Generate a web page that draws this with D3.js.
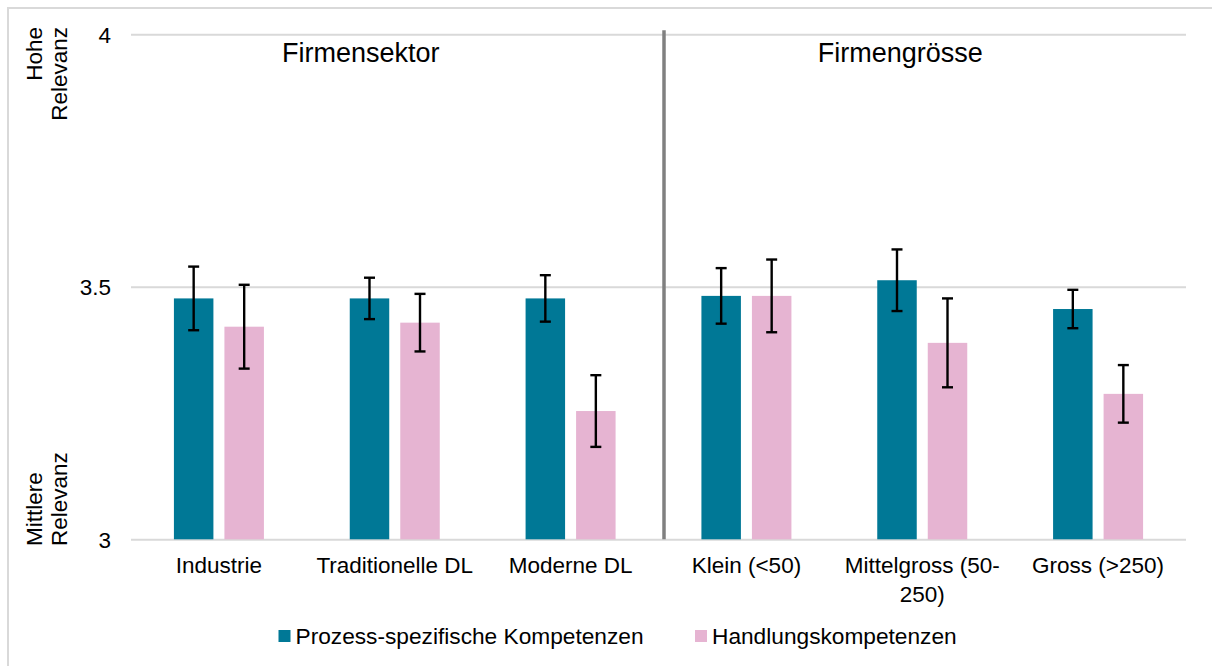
<!DOCTYPE html>
<html>
<head>
<meta charset="utf-8">
<script src="https://cdn.jsdelivr.net/npm/d3@7"></script>
<style>
  body { margin: 0; background: #fff; }
  svg text { font-family: "Liberation Sans", Arial, sans-serif; fill: #000; }
</style>
</head>
<body>
<svg id="drawing_region"></svg>
<script>
// categories and tick labels
const categories = ['Industrie', 'Traditionelle DL', 'Moderne DL', 'Klein (<50)', 'Mittelgross (50-250)', 'Gross (>250)'];
const categoryLines = [['Industrie'], ['Traditionelle DL'], ['Moderne DL'], ['Klein (<50)'], ['Mittelgross (50-', '250)'], ['Gross (>250)']];
const seriesNames = ['Prozess-spezifische Kompetenzen', 'Handlungskompetenzen'];
const groupTitles = ['Firmensektor', 'Firmengrösse'];
const yTicks = [3, 3.5, 4];
const yTickLabels = ['3', '3.5', '4'];

// series values (means) and error half widths
const prozessValues = [3.477, 3.477, 3.477, 3.482, 3.513, 3.456];
const prozessErrors = [0.063, 0.041, 0.046, 0.055, 0.061, 0.038];
const handlungValues = [3.421, 3.429, 3.254, 3.482, 3.389, 3.288];
const handlungErrors = [0.083, 0.057, 0.071, 0.072, 0.088, 0.057];

const colors = ['#007896', '#e6b4d2'];

const config = {
    width: 1212,
    height: 666,
    margin: {top: 34.3, right: 26, bottom: 126.7, left: 131}
};

const svg = d3.select('#drawing_region')
    .attr('width', config.width)
    .attr('height', config.height);

// outer chart frame
svg.append('rect')
    .attr('x', 8).attr('y', 8)
    .attr('width', config.width + 20).attr('height', config.height + 20)
    .attr('fill', 'none')
    .attr('stroke', '#d9d9d9')
    .attr('stroke-width', 2);

const inner_width = config.width - config.margin.left - config.margin.right;
const inner_height = config.height - config.margin.top - config.margin.bottom;

const chart = svg.append('g')
    .attr('transform', `translate(${config.margin.left}, ${config.margin.top})`);

const xscale = d3.scaleBand()
    .domain(categories)
    .range([0, inner_width]);

const subscale = d3.scaleBand()
    .domain([0, 1])
    .range([-45, 45])
    .paddingInner(0.218);

const yscale = d3.scaleLinear()
    .domain([3, 4])
    .range([inner_height, 0]);

// gridlines + y tick labels
const yaxis = d3.axisLeft(yscale)
    .tickValues(yTicks)
    .tickFormat((d, i) => yTickLabels[i])
    .tickSize(-inner_width)
    .tickPadding(20);

const yaxis_group = chart.append('g').call(yaxis);
yaxis_group.select('.domain').remove();
yaxis_group.selectAll('line')
    .attr('stroke', '#d9d9d9')
    .attr('stroke-width', 2);
yaxis_group.selectAll('text')
    .attr('font-size', 22.5)
    .attr('dy', '0.35em');

// x axis labels
const xaxis = d3.axisBottom(xscale).tickSize(0).tickFormat('');
const xaxis_group = chart.append('g')
    .attr('transform', `translate(0, ${inner_height})`)
    .call(xaxis);
xaxis_group.select('.domain').remove();
xaxis_group.selectAll('.tick')
    .append('text')
    .attr('text-anchor', 'middle')
    .attr('font-size', 22.5)
    .attr('y', 34)
    .selectAll('tspan')
    .data((d, i) => categoryLines[i])
    .join('tspan')
    .attr('x', 0)
    .attr('dy', (d, i) => i === 0 ? 0 : 29)
    .text(d => d);

// bars
const series = [
    {values: prozessValues, errors: prozessErrors},
    {values: handlungValues, errors: handlungErrors}
];

series.forEach((s, si) => {
    const rows = categories.map((c, i) => ({cat: c, value: s.values[i], err: s.errors[i]}));
    const g = chart.append('g');
    g.selectAll('rect')
        .data(rows)
        .join('rect')
        .attr('x', d => xscale(d.cat) + xscale.bandwidth() / 2 + subscale(si))
        .attr('y', d => yscale(d.value))
        .attr('width', subscale.bandwidth())
        .attr('height', d => inner_height - yscale(d.value))
        .attr('fill', colors[si]);
});

// error bars
series.forEach((s, si) => {
    const rows = categories.map((c, i) => ({cat: c, value: s.values[i], err: s.errors[i]}));
    const cx = d => xscale(d.cat) + xscale.bandwidth() / 2 + subscale(si) + subscale.bandwidth() / 2;
    const g = chart.append('g')
        .attr('stroke', '#000')
        .attr('stroke-width', 2.4);
    g.selectAll('line.stem')
        .data(rows)
        .join('line')
        .attr('class', 'stem')
        .attr('x1', cx).attr('x2', cx)
        .attr('y1', d => yscale(d.value + d.err))
        .attr('y2', d => yscale(d.value - d.err));
    g.selectAll('line.capTop')
        .data(rows)
        .join('line')
        .attr('class', 'capTop')
        .attr('x1', d => cx(d) - 5.5).attr('x2', d => cx(d) + 5.5)
        .attr('y1', d => yscale(d.value + d.err))
        .attr('y2', d => yscale(d.value + d.err));
    g.selectAll('line.capBot')
        .data(rows)
        .join('line')
        .attr('class', 'capBot')
        .attr('x1', d => cx(d) - 5.5).attr('x2', d => cx(d) + 5.5)
        .attr('y1', d => yscale(d.value - d.err))
        .attr('y2', d => yscale(d.value - d.err));
});

// divider between the two groups
const divX = xscale(categories[3]) + 5.5;
chart.append('line')
    .attr('x1', divX).attr('x2', divX)
    .attr('y1', -4).attr('y2', inner_height)
    .attr('stroke', '#808080')
    .attr('stroke-width', 3.5);

// group titles
const titleOffsets = [-34, -22];
[1, 4].forEach((ci, i) => {
    chart.append('text')
        .attr('x', xscale(categories[ci]) + xscale.bandwidth() / 2 + titleOffsets[i])
        .attr('y', 27.5)
        .attr('text-anchor', 'middle')
        .attr('font-size', 27)
        .text(groupTitles[i]);
});

// y axis end labels
const endLabels = [
    {lines: ['Hohe', 'Relevanz'], y: 27, anchor: 'end'},
    {lines: ['Mittlere', 'Relevanz'], y: 546, anchor: 'start'}
];
endLabels.forEach(l => {
    l.lines.forEach((t, i) => {
        svg.append('text')
            .attr('transform', `translate(${42 + i * 25}, ${l.y}) rotate(-90)`)
            .attr('text-anchor', l.anchor)
            .attr('font-size', 22.5)
            .text(t);
    });
});

// legend
const legendX = [278.5, 695];
const legend = svg.append('g');
seriesNames.forEach((name, i) => {
    legend.append('rect')
        .attr('x', legendX[i]).attr('y', 630)
        .attr('width', 12).attr('height', 12)
        .attr('fill', colors[i]);
    legend.append('text')
        .attr('x', legendX[i] + 17)
        .attr('y', 644)
        .attr('font-size', 22.7)
        .text(name);
});
</script>
</body>
</html>
